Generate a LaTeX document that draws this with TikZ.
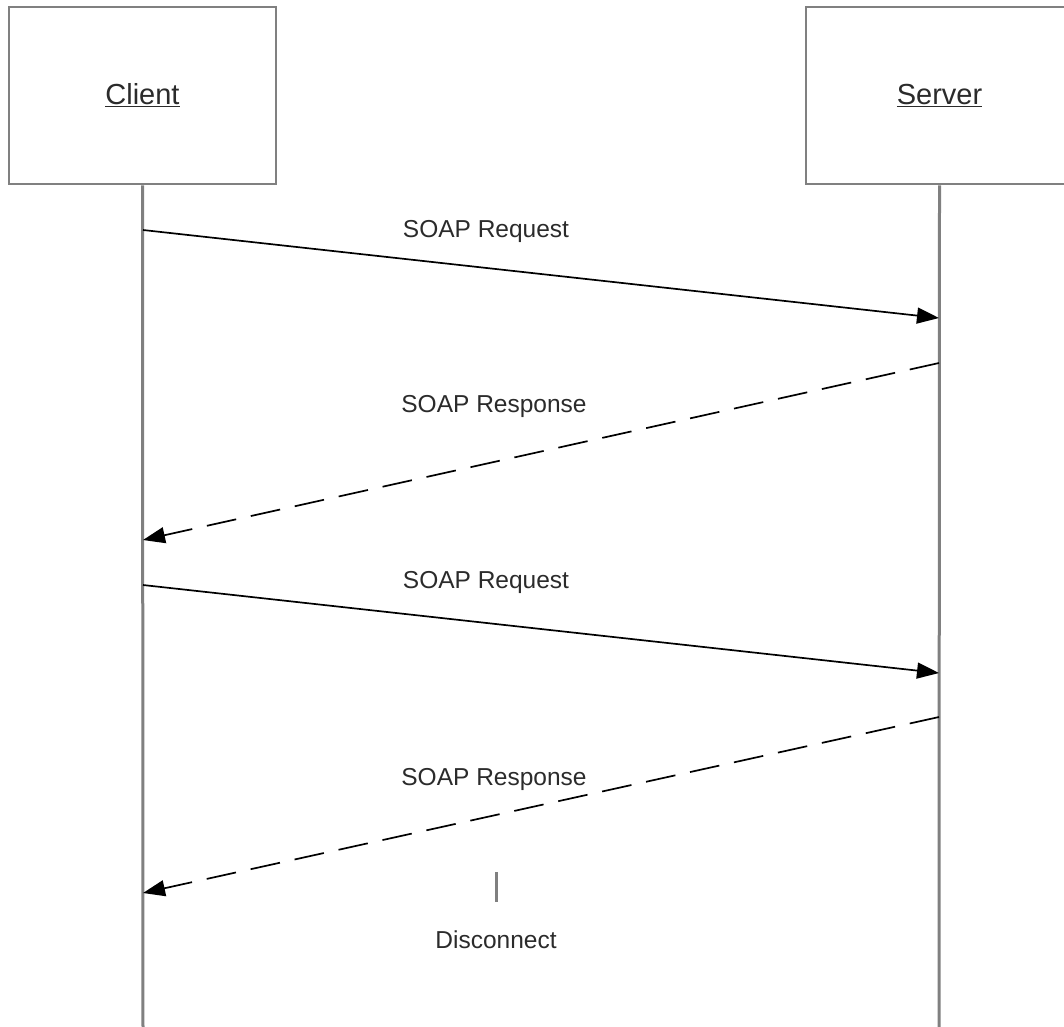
\documentclass[tikz,border=0pt]{standalone}
\usepackage{fontspec}
\setmainfont{Liberation Sans}
\usetikzlibrary{arrows.meta}
\definecolor{linegray}{HTML}{808080}
\definecolor{txtgray}{HTML}{2B2B2B}
\tikzset{
  actor/.style={draw=linegray, line width=2.5pt, fill=white, minimum width=267pt, minimum height=177pt, inner sep=0pt, text=txtgray, font=\fontsize{29}{34}\selectfont},
  lifeline/.style={draw=linegray, line width=3pt},
  msg/.style={draw=black, line width=1.7pt, -{Triangle[length=22pt,width=16pt]}},
  reply/.style={msg, dash pattern=on 30pt off 15pt},
  lbl/.style={text=txtgray, font=\fontsize{24.5}{29}\selectfont, inner sep=0pt},
  tick/.style={draw=linegray, line width=3pt}
}
\begin{document}
\begin{tikzpicture}[x=1pt,y=-1pt]
\useasboundingbox (0,0) rectangle (1064,1026);
\clip (0,0) rectangle (1064,1026);
\node[actor] (client) at (142.5,95.5) {\underline{Client}};
\node[actor] (server) at (939.5,95.5) {\underline{Server}};
\coordinate (cend) at (143,1030);
\coordinate (send) at (939,1030);
\draw[lifeline] (client.south) -- (cend);
\draw[lifeline] (server.south) -- (send);
\coordinate (c1) at (143,230);
\coordinate (s1) at (939,318);
\coordinate (s2) at (939,363);
\coordinate (c2) at (143,540);
\coordinate (c3) at (143,585);
\coordinate (s3) at (939,673);
\coordinate (s4) at (939,717);
\coordinate (c4) at (143,893);
\draw[msg] (c1) -- (s1);
\draw[reply] (s2) -- (c2);
\draw[msg] (c3) -- (s3);
\draw[reply] (s4) -- (c4);
\node[lbl] (l1) at (486,231) {SOAP Request};
\node[lbl] (l2) at (494,406) {SOAP Response};
\node[lbl] (l3) at (486,582) {SOAP Request};
\node[lbl] (l4) at (494,779) {SOAP Response};
\coordinate (dtop) at (496,872);
\coordinate (dbot) at (496,902);
\draw[tick] (dtop) -- (dbot);
\node[lbl] (disc) at (496,940) {Disconnect};
\end{tikzpicture}
\end{document}
